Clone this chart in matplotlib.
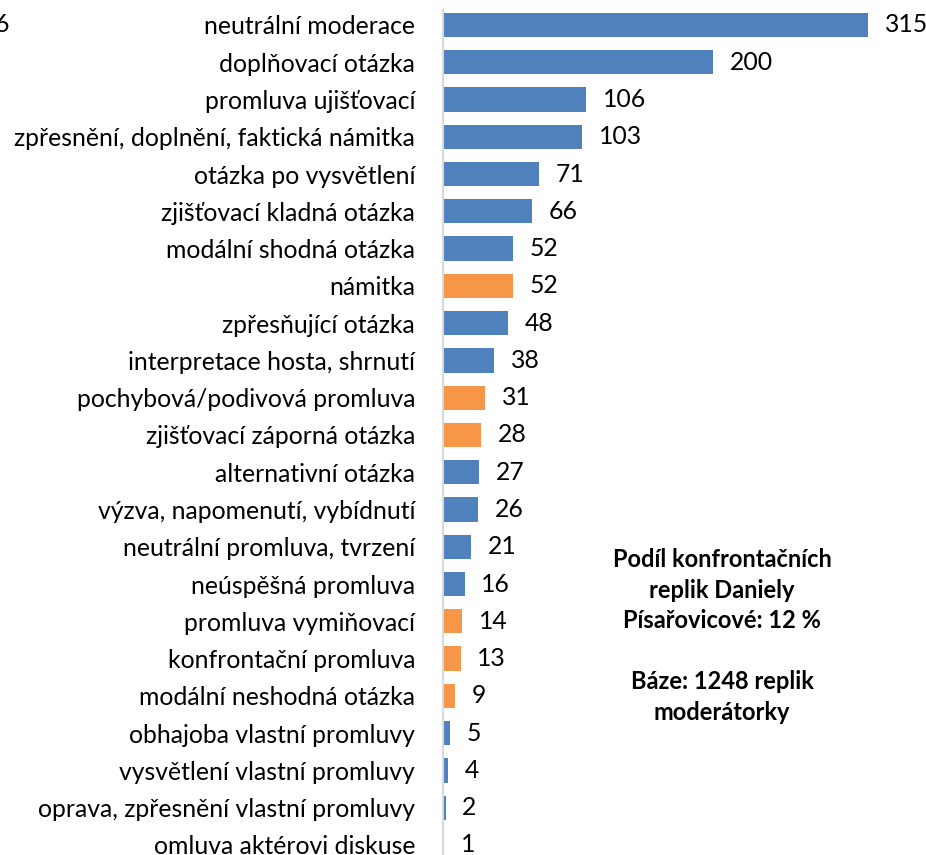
import matplotlib
matplotlib.use("Agg")
import matplotlib.pyplot as plt

plt.rcParams["font.family"] = ["Lato", "DejaVu Sans"]

categories = [
    "neutrální moderace",
    "doplňovací otázka",
    "promluva ujišťovací",
    "zpřesnění, doplnění, faktická námitka",
    "otázka po vysvětlení",
    "zjišťovací kladná otázka",
    "modální shodná otázka",
    "námitka",
    "zpřesňující otázka",
    "interpretace hosta, shrnutí",
    "pochybová/podivová promluva",
    "zjišťovací záporná otázka",
    "alternativní otázka",
    "výzva, napomenutí, vybídnutí",
    "neutrální promluva, tvrzení",
    "neúspěšná promluva",
    "promluva vymiňovací",
    "konfrontační promluva",
    "modální neshodná otázka",
    "obhajoba vlastní promluvy",
    "vysvětlení vlastní promluvy",
    "oprava, zpřesnění vlastní promluvy",
    "omluva aktérovi diskuse",
]
values = [315, 200, 106, 103, 71, 66, 52, 52, 48, 38, 31, 28, 27, 26, 21, 16, 14, 13, 9, 5, 4, 2, 1]
confrontational = {
    "námitka",
    "pochybová/podivová promluva",
    "zjišťovací záporná otázka",
    "promluva vymiňovací",
    "konfrontační promluva",
    "modální neshodná otázka",
}

BLUE = "#4F81BD"
ORANGE = "#F79646"
colors = [ORANGE if c in confrontational else BLUE for c in categories]

fig = plt.figure(figsize=(9.26, 8.55), dpi=100)
ax = fig.add_axes([443 / 926, 0.0, 1 - 443 / 926, 1.0])

y = list(range(len(categories)))
ax.barh(y, values, height=0.65, color=colors)

ax.set_xlim(0, 483 / 1.349)
ax.set_ylim(22.27, -0.67)
ax.set_yticks(y)
ax.set_yticklabels(categories, fontsize=17.8)
ax.tick_params(axis="y", length=0, pad=20)
ax.set_xticks([])

for s in ("top", "right", "bottom"):
    ax.spines[s].set_visible(False)
ax.spines["left"].set_color("#D9D9D9")
ax.spines["left"].set_linewidth(1.5)
ax.spines["left"].set_bounds(22.4, -0.4)

for yi, v in zip(y, values):
    ax.annotate(str(v), xy=(v, yi), xytext=(12, 0), textcoords="offset points",
                ha="left", va="center", fontsize=17.8)

fig.text(722 / 926, 1 - 548 / 855,
         "Podíl konfrontačních\nreplik Daniely\nPísařovicové: 12 %\n\nBáze: 1248 replik\nmoderátorky",
         ha="center", va="top", fontsize=17, fontweight="bold", linespacing=1.4)

# useknutý popisek vlevo nahoře
fig.text(-0.006, 1 - 25 / 855, "6", ha="left", va="center", fontsize=17.8)

fig.savefig("out.png", dpi=100)
